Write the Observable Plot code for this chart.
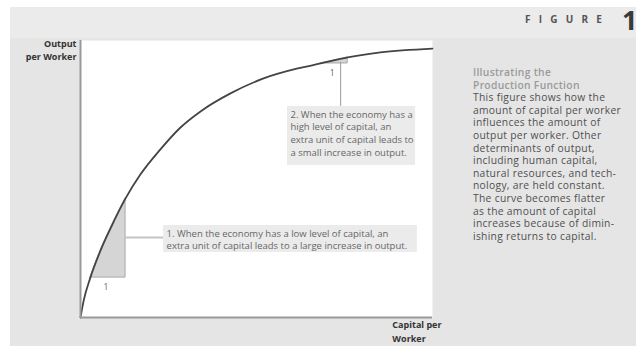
<!DOCTYPE html>
<html>
<head>
<meta charset="utf-8">
<script src="https://cdn.jsdelivr.net/npm/d3@7"></script>
<script src="https://cdn.jsdelivr.net/npm/@observablehq/plot@0.6"></script>
<style>
  html, body { margin: 0; padding: 0; background: #fff; }
  #fig {
    position: relative; width: 636px; height: 346px; overflow: hidden;
    background:
      linear-gradient(to right, #fff 10px, transparent 10px),
      linear-gradient(to bottom, #fff 7px, #ebebeb 7px, #ebebeb 38px, #e5e5e5 38px);
    font-family: "Open Sans", sans-serif;
  }
  #chart { position: absolute; left: 0; top: 0; }
  #figlabel { position: absolute; left: 525px; top: 12px; font: bold 10px "Open Sans", sans-serif;
    letter-spacing: 8.2px; color: #555; }
  #fignum { position: absolute; left: 622px; top: 1px; font: bold 27px "Open Sans", sans-serif; color: #3a3a3a; }
  #side { position: absolute; left: 473px; top: 66px; width: 163px; font-size: 10.3px; letter-spacing: 0.3px;
    line-height: 12.6px; color: #505050; white-space: nowrap; }
  #side .t { color: #9a9a9a; font-weight: 600; }
</style>
</head>
<body>
<div id="fig">
  <div id="chart"></div>
  <div id="figlabel">FIGURE</div>
  <div id="fignum">1</div>
  <div id="side"></div>
</div>
<script>
// Curve (capital per worker, output per worker), arbitrary units
const capital = [0, 0.9, 2.8, 5.7, 8.5, 12.8, 17, 22.7, 28.4, 34.1, 42.6, 52, 61.7, 68.2, 75.9, 85.2, 100];
const output  = [0, 6.1, 14.4, 24.2, 32.1, 43, 51.6, 60.7, 68.6, 74.4, 80.9, 86.3, 89.9, 91.7, 93.9, 95.7, 97.1];

// The two "one extra unit of capital" steps
const stepFrom  = [2.8, 68.2];
const stepTo    = [12.8, 75.9];
const stepLabel = ["1", "1"];

// Annotation texts
const notes = [
  "1. When the economy has a low level of capital, an\nextra unit of capital leads to a large increase in output.",
  "2. When the economy has a\nhigh level of capital, an\nextra unit of capital leads to\na small increase in output."
];
// Annotation boxes (data units)
const noteX1 = [23.6, 58.8], noteX2 = [95.7, 95.2];
const noteY1 = [33.2, 76.2], noteY2 = [23.5, 54.9];

const yLabel = "Output\nper Worker";
const xLabel = "Capital per\nWorker";

const sideTitle = ["Illustrating the", "Production Function"];
const sideBody = [
  "This figure shows how the",
  "amount of capital per worker",
  "influences the amount of",
  "output per worker. Other",
  "determinants of output,",
  "including human capital,",
  "natural resources, and tech-",
  "nology, are held constant.",
  "The curve becomes flatter",
  "as the amount of capital",
  "increases because of dimin-",
  "ishing returns to capital."
];

const curve = capital.map((k, i) => ({k, y: output[i]}));
const steps = stepFrom.map((f, i) => {
  const base = output[capital.indexOf(f)];
  return {
    from: f, to: stepTo[i], label: stepLabel[i], base,
    pts: curve.filter(d => d.k >= f && d.k <= stepTo[i]).map(d => ({...d, base}))
  };
});
const boxes = notes.map((t, i) => ({text: t, x1: noteX1[i], x2: noteX2[i], y1: noteY1[i], y2: noteY2[i]}));

const leaders = [{x1: steps[0].to, x2: boxes[0].x1, y: 28.9}];
const leadersV = [{x: 73.9, y1: 92.1, y2: boxes[1].y1}];

const plot = Plot.plot({
  width: 636, height: 346,
  marginLeft: 80, marginRight: 204, marginTop: 40, marginBottom: 29,
  x: {domain: [0, 100], axis: null},
  y: {domain: [0, 100], axis: null},
  style: {background: "transparent", fontFamily: "Open Sans, sans-serif"},
  marks: [
    Plot.frame({fill: "white", stroke: null}),
    ...steps.map(s => Plot.areaY(s.pts, {x: "k", y1: "base", y2: "y", fill: "#d5d5d5", stroke: "#a8a8a8", strokeWidth: 1, curve: "monotone-x"})),
    Plot.text(steps, {x: d => (d.from + d.to) / 2, y: "base", text: "label", dy: 10, fontSize: 8.5, fill: "#666", dx: -2}),
    Plot.ruleY(leaders, {y: "y", x1: "x1", x2: "x2", stroke: "#c4c4c4", strokeWidth: 2}),
    Plot.ruleX(leadersV, {x: "x", y1: "y1", y2: "y2", stroke: "#9a9a9a", strokeWidth: 1}),
    Plot.rect(boxes, {x1: "x1", x2: "x2", y1: "y1", y2: "y2", fill: "#ebebeb"}),
    Plot.text(boxes, {x: "x1", y: "y1", text: "text", textAnchor: "start", lineAnchor: "top", dx: 3, dy: 2,
      fontSize: 9.5, lineHeight: 1.35, fill: "#666"}),
    Plot.line(curve, {x: "k", y: "y", stroke: "#444", strokeWidth: 1.8, curve: "monotone-x"}),
    Plot.ruleX([0], {stroke: "#999", strokeWidth: 2}),
    Plot.ruleY([0], {stroke: "#999", strokeWidth: 2}),
    Plot.text([yLabel], {x: 0, y: 100, text: d => d, textAnchor: "end", lineAnchor: "top", dx: -4, dy: -3,
      fontSize: 9, fontWeight: "bold", lineHeight: 1.45, fill: "#333", clip: false}),
    Plot.text([xLabel], {x: 88.6, y: 0, text: d => d, textAnchor: "start", lineAnchor: "top", dy: 1,
      fontSize: 9, fontWeight: "bold", lineHeight: 1.5, fill: "#333", clip: false})
  ]
});
document.getElementById("chart").appendChild(plot);

const side = document.getElementById("side");
side.innerHTML = sideTitle.map(t => `<div class="t">${t}</div>`).join("") +
  sideBody.map(t => `<div>${t}</div>`).join("");
</script>
</body>
</html>
